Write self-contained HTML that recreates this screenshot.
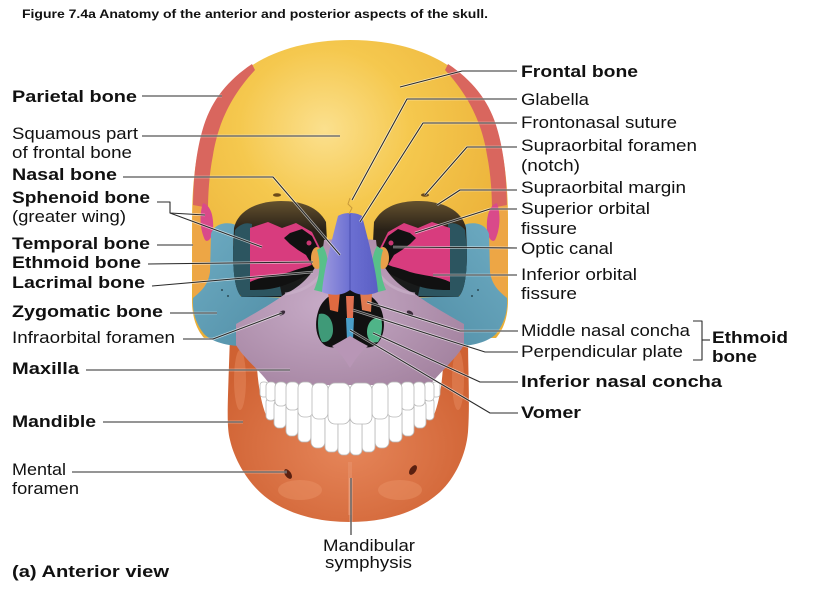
<!DOCTYPE html>
<html>
<head>
<meta charset="utf-8">
<style>
html,body{margin:0;padding:0;background:#fff;}
svg{display:block;}
text{font-family:"Liberation Sans",Arial,sans-serif;fill:#111;}
.b{font-weight:bold;font-size:16.5px;}
.r{font-size:16.5px;}
</style>
</head>
<body>
<svg width="813" height="595" viewBox="0 0 813 595" xmlns="http://www.w3.org/2000/svg">
<defs>
<radialGradient id="gY" cx="0.42" cy="0.3" r="0.68">
<stop offset="0" stop-color="#fbe08e"/><stop offset="0.4" stop-color="#f5c84e"/><stop offset="1" stop-color="#eaae36"/>
</radialGradient>
<radialGradient id="gM" cx="0.5" cy="0.6" r="0.6">
<stop offset="0" stop-color="#e6865a"/><stop offset="1" stop-color="#cf6132"/>
</radialGradient>
<radialGradient id="gX" cx="0.4" cy="0.45" r="0.7">
<stop offset="0" stop-color="#c7abc7"/><stop offset="1" stop-color="#a3829f"/>
</radialGradient>
<linearGradient id="gZ" x1="0" y1="0" x2="1" y2="1">
<stop offset="0" stop-color="#6eacc3"/><stop offset="1" stop-color="#4f8ca4"/>
</linearGradient>
<linearGradient id="gO" x1="0" y1="0" x2="0" y2="1">
<stop offset="0" stop-color="#64512e"/><stop offset="0.3" stop-color="#2a2218"/><stop offset="1" stop-color="#15191b"/>
</linearGradient>
<linearGradient id="gN" x1="0" y1="0" x2="1" y2="0">
<stop offset="0" stop-color="#9c98de"/><stop offset="0.5" stop-color="#6c70d2"/><stop offset="1" stop-color="#5a5ec4"/>
</linearGradient>

<g id="L">
  <path d="M252,64 C228,80 212,100 204,125 C196,150 193,180 193,210 L208,212 C208,195 209,175 213,155 C217,130 227,100 255,70 Z" fill="#d9665e"/>
  <path d="M193,205 L209,208 C212,225 214,250 212,280 L194,302 C192,270 192,235 193,205 Z" fill="#eda645"/>
  <path d="M203,203 C210,205 214,215 213,230 C212,238 208,243 205,240 C200,230 199,215 203,203 Z" fill="#d94a8a"/>
  <path d="M211,234 C214,224 226,221 236,225 L240,296 L292,298 L292,304 C268,314 250,326 242,346 C228,346 212,342 204,334 C196,324 192,312 193,298 C200,292 208,286 210,272 Z" fill="url(#gZ)"/>
  <circle cx="222" cy="290" r="1" fill="#2a4a55"/><circle cx="228" cy="296" r="1" fill="#2a4a55"/>
  <path d="M234,228 C238,210 258,201 281,201 C302,201 318,207 326,222 L328,262 C326,284 318,296 300,297 L242,297 C235,292 233,272 233,250 Z" fill="url(#gO)"/>
  <path d="M235,230 C240,224 246,222 252,224 L250,285 L280,286 L282,296 L242,297 C235,292 233,272 233,250 Z" fill="#2c5560"/>
  <path d="M250,228 L268,222 L282,228 L296,223 L312,232 L320,248 L318,262 L300,270 L284,276 L262,280 L250,282 Z" fill="#d83c7e"/>
  <path d="M290,233 L302,229 L312,236 L318,248 L321,262 L312,265 L306,255 L298,250 L290,244 L284,238 Z" fill="#111"/>
  <circle cx="309" cy="243" r="2.5" fill="#c83672"/>
  <path d="M250,282 C262,276 276,276 290,272 C300,268 310,266 318,264 L318,270 C305,276 295,282 282,286 C270,290 258,290 250,290 Z" fill="#111"/>
</g>

<g id="L2">
  <ellipse cx="317" cy="258" rx="6" ry="11" fill="#e8a04a"/>
  <path d="M323,246 C330,258 330,278 322,292 L314,290 C320,276 321,262 317,250 Z" fill="#58c08a"/>
</g>
</defs>

<text x="22" y="18" font-size="12" font-weight="bold" textLength="466" lengthAdjust="spacingAndGlyphs">Figure 7.4a  Anatomy of the anterior and posterior aspects of the skull.</text>

<path d="M230,335 L256,335 C256,365 258,395 266,415 L434,415 C442,395 444,365 444,335 L468,335 C468,370 470,405 468,432 C466,455 455,478 440,492 C420,510 390,522 350,522 C310,522 280,510 262,494 C246,480 234,458 230,440 C226,425 228,400 230,335 Z" fill="url(#gM)"/>
<ellipse cx="300" cy="490" rx="22" ry="10" fill="#ec9468" opacity="0.45"/>
<ellipse cx="400" cy="490" rx="22" ry="10" fill="#ec9468" opacity="0.45"/>
<ellipse cx="240" cy="380" rx="6" ry="30" fill="#ec9468" opacity="0.4"/>
<ellipse cx="458" cy="380" rx="6" ry="30" fill="#ec9468" opacity="0.4"/>
<path d="M350,462 L350,515" stroke="#e99670" stroke-width="4" opacity="0.5"/>

<path d="M350,40 C420,40 468,68 490,112 C503,140 508,180 508,220 L508,300 C508,318 503,330 496,338 L204,338 C197,330 192,318 192,300 L192,220 C192,180 197,140 210,112 C232,68 280,40 350,40 Z" fill="url(#gY)"/>

<use href="#L"/>
<use href="#L" transform="translate(700 0) scale(-1 1)"/>

<path d="M324,240 C322,265 305,285 285,294 C270,305 250,316 236,324 L236,345 C245,360 262,372 270,385 L430,385 C440,372 455,360 464,345 L464,324 C450,316 430,305 415,294 C395,285 378,265 376,240 L350,238 Z" fill="url(#gX)"/>
<path d="M285,294 C300,292 315,285 322,272" fill="none" stroke="#c9b0c9" stroke-width="3" opacity="0.7"/>
<path d="M415,294 C400,292 385,285 378,272" fill="none" stroke="#c9b0c9" stroke-width="3" opacity="0.7"/>

<use href="#L2"/>
<use href="#L2" transform="translate(700 0) scale(-1 1)"/>

<path d="M350,290 C335,290 322,298 318,312 C314,325 316,340 326,346 C336,350 344,345 350,340 C356,345 364,350 374,346 C384,340 386,325 382,312 C378,298 365,290 350,290 Z" fill="#111"/>
<path d="M328,292 L340,292 L338,312 L330,310 Z" fill="#e06a40"/>
<path d="M360,292 L372,294 L371,312 L362,310 Z" fill="#e07a50"/>
<path d="M319,314 C326,312 333,318 333,330 C333,338 328,343 322,342 C318,335 317,322 319,314 Z" fill="#3f9a78"/>
<path d="M381,318 C374,316 367,322 367,332 C367,340 372,344 378,342 C382,336 383,325 381,318 Z" fill="#4fb488"/>
<path d="M346,296 L354,296 L353,318 L347,318 Z" fill="#e07050"/>
<path d="M346,318 L354,318 L353,340 L347,340 Z" fill="#4a9ec8"/>
<path d="M332,346 C340,342 346,338 350,336 C354,338 360,342 368,346 C360,352 355,360 350,368 C345,360 340,352 332,346 Z" fill="#b896b6"/>

<path d="M338,216 C344,212 356,212 362,216 C368,240 376,268 378,292 C368,296 358,296 350,290 C342,296 332,296 322,292 C324,268 332,240 338,216 Z" fill="url(#gN)"/>
<path d="M350,214 L350,290" stroke="#4a4eb0" stroke-width="1"/>
<path d="M350,198 L348,204 L352,208 L349,214" fill="none" stroke="#c89a3a" stroke-width="1"/>

<g fill="#fff" stroke="#b8b8b8" stroke-width="0.8">
<rect x="266" y="398" width="9" height="22" rx="4"/><rect x="425" y="398" width="9" height="22" rx="4"/>
<rect x="274" y="400" width="12" height="28" rx="5"/><rect x="414" y="400" width="12" height="28" rx="5"/>
<rect x="286" y="403" width="12" height="33" rx="5"/><rect x="402" y="403" width="12" height="33" rx="5"/>
<rect x="298" y="405" width="13" height="37" rx="5"/><rect x="389" y="405" width="13" height="37" rx="5"/>
<rect x="311" y="408" width="14" height="40" rx="6"/><rect x="375" y="408" width="14" height="40" rx="6"/>
<rect x="325" y="410" width="13" height="42" rx="5"/><rect x="362" y="410" width="13" height="42" rx="5"/>
<rect x="338" y="410" width="12" height="45" rx="5"/><rect x="350" y="410" width="12" height="45" rx="5"/>
</g>
<g fill="#fff" stroke="#b8b8b8" stroke-width="0.8">
<rect x="260" y="382" width="8" height="15" rx="3"/><rect x="432" y="382" width="8" height="15" rx="3"/>
<rect x="266" y="382" width="10" height="19" rx="4"/><rect x="424" y="382" width="10" height="19" rx="4"/>
<rect x="275" y="382" width="12" height="24" rx="5"/><rect x="413" y="382" width="12" height="24" rx="5"/>
<rect x="286" y="382" width="13" height="28" rx="5"/><rect x="401" y="382" width="13" height="28" rx="5"/>
<rect x="298" y="382" width="15" height="35" rx="6"/><rect x="387" y="382" width="15" height="35" rx="6"/>
<rect x="312" y="383" width="16" height="36" rx="6"/><rect x="372" y="383" width="16" height="36" rx="6"/>
<rect x="328" y="383" width="22" height="41" rx="7"/><rect x="350" y="383" width="22" height="41" rx="7"/>
</g>

<ellipse cx="277" cy="195" rx="4" ry="1.8" fill="#6b4a1a"/>
<ellipse cx="425" cy="195" rx="4" ry="1.8" fill="#6b4a1a"/>
<ellipse cx="282" cy="313" rx="3.5" ry="2" fill="#3a2a3a" transform="rotate(-30 282 313)"/>
<ellipse cx="410" cy="313" rx="3.5" ry="2" fill="#3a2a3a" transform="rotate(30 410 313)"/>
<ellipse cx="288" cy="474" rx="3" ry="5.5" fill="#5a2010" transform="rotate(-35 288 474)"/>
<ellipse cx="413" cy="470" rx="3" ry="5.5" fill="#5a2010" transform="rotate(35 413 470)"/>

<g fill="none" stroke-linejoin="round">
<g stroke="#fff" stroke-width="2.6" opacity="0.6">
<polyline points="142,96 222,96"/><polyline points="142,136 340,136"/><polyline points="123,177 273,177 340,255"/>
<polyline points="157,202 170,202 170,213 205,215"/><polyline points="170,213 262,247"/>
<polyline points="157,245 193,245"/><polyline points="148,264 313,262"/><polyline points="152,286 313,272"/>
<polyline points="170,313 217,313"/><polyline points="183,339 213,339 282,313"/><polyline points="86,370 290,370"/>
<polyline points="103,422 243,422"/><polyline points="72,472 287,472"/><polyline points="351,478 351,535"/>
<polyline points="400,87 462,71 517,71"/><polyline points="352,200 407,99 517,99"/><polyline points="360,222 423,123 517,123"/>
<polyline points="425,195 467,147 517,147"/><polyline points="437,205 460,190 517,190"/><polyline points="415,233 490,209 517,209"/>
<polyline points="393,247 517,248"/><polyline points="433,275 517,275"/>
<polyline points="367,302 460,331 518,331"/><polyline points="353,310 485,352 518,352"/>
<polyline points="373,333 480,382 518,382"/><polyline points="350,330 490,413 518,413"/>
</g>
<g stroke="#2b2b2b" stroke-width="1.1">
<polyline points="142,96 222,96"/><polyline points="142,136 340,136"/><polyline points="123,177 273,177 340,255"/>
<polyline points="157,202 170,202 170,213 205,215"/><polyline points="170,213 262,247"/>
<polyline points="157,245 193,245"/><polyline points="148,264 313,262"/><polyline points="152,286 313,272"/>
<polyline points="170,313 217,313"/><polyline points="183,339 213,339 282,313"/><polyline points="86,370 290,370"/>
<polyline points="103,422 243,422"/><polyline points="72,472 287,472"/><polyline points="351,478 351,535"/>
<polyline points="400,87 462,71 517,71"/><polyline points="352,200 407,99 517,99"/><polyline points="360,222 423,123 517,123"/>
<polyline points="425,195 467,147 517,147"/><polyline points="437,205 460,190 517,190"/><polyline points="415,233 490,209 517,209"/>
<polyline points="393,247 517,248"/><polyline points="433,275 517,275"/>
<polyline points="367,302 460,331 518,331"/><polyline points="353,310 485,352 518,352"/>
<polyline points="373,333 480,382 518,382"/><polyline points="350,330 490,413 518,413"/>
<polyline points="693,321 702,321 702,360 693,360"/><polyline points="702,340 710,340"/>
</g>
</g>

<text class="b" x="12" y="102" textLength="125" lengthAdjust="spacingAndGlyphs">Parietal bone</text>
<text class="r" x="12" y="139" textLength="126" lengthAdjust="spacingAndGlyphs">Squamous part</text>
<text class="r" x="12" y="158" textLength="120" lengthAdjust="spacingAndGlyphs">of frontal bone</text>
<text class="b" x="12" y="180" textLength="105" lengthAdjust="spacingAndGlyphs">Nasal bone</text>
<text class="b" x="12" y="203" textLength="138" lengthAdjust="spacingAndGlyphs">Sphenoid bone</text>
<text class="r" x="12" y="222" textLength="114" lengthAdjust="spacingAndGlyphs">(greater wing)</text>
<text class="b" x="12" y="249" textLength="138" lengthAdjust="spacingAndGlyphs">Temporal bone</text>
<text class="b" x="12" y="268" textLength="129" lengthAdjust="spacingAndGlyphs">Ethmoid bone</text>
<text class="b" x="12" y="288" textLength="133" lengthAdjust="spacingAndGlyphs">Lacrimal bone</text>
<text class="b" x="12" y="317" textLength="151" lengthAdjust="spacingAndGlyphs">Zygomatic bone</text>
<text class="r" x="12" y="343" textLength="163" lengthAdjust="spacingAndGlyphs">Infraorbital foramen</text>
<text class="b" x="12" y="374" textLength="67" lengthAdjust="spacingAndGlyphs">Maxilla</text>
<text class="b" x="12" y="427" textLength="84" lengthAdjust="spacingAndGlyphs">Mandible</text>
<text class="r" x="12" y="475" textLength="54" lengthAdjust="spacingAndGlyphs">Mental</text>
<text class="r" x="12" y="494" textLength="67" lengthAdjust="spacingAndGlyphs">foramen</text>
<text class="b" x="12" y="577" textLength="157" lengthAdjust="spacingAndGlyphs">(a) Anterior view</text>

<text class="r" x="323" y="551" textLength="92" lengthAdjust="spacingAndGlyphs">Mandibular</text>
<text class="r" x="325" y="568" textLength="87" lengthAdjust="spacingAndGlyphs">symphysis</text>

<text class="b" x="521" y="77" textLength="117" lengthAdjust="spacingAndGlyphs">Frontal bone</text>
<text class="r" x="521" y="105" textLength="68" lengthAdjust="spacingAndGlyphs">Glabella</text>
<text class="r" x="521" y="128" textLength="156" lengthAdjust="spacingAndGlyphs">Frontonasal suture</text>
<text class="r" x="521" y="151" textLength="176" lengthAdjust="spacingAndGlyphs">Supraorbital foramen</text>
<text class="r" x="521" y="171" textLength="59" lengthAdjust="spacingAndGlyphs">(notch)</text>
<text class="r" x="521" y="193" textLength="165" lengthAdjust="spacingAndGlyphs">Supraorbital margin</text>
<text class="r" x="521" y="214" textLength="129" lengthAdjust="spacingAndGlyphs">Superior orbital</text>
<text class="r" x="521" y="234" textLength="56" lengthAdjust="spacingAndGlyphs">fissure</text>
<text class="r" x="521" y="254" textLength="92" lengthAdjust="spacingAndGlyphs">Optic canal</text>
<text class="r" x="521" y="280" textLength="116" lengthAdjust="spacingAndGlyphs">Inferior orbital</text>
<text class="r" x="521" y="299" textLength="56" lengthAdjust="spacingAndGlyphs">fissure</text>
<text class="r" x="521" y="336" textLength="169" lengthAdjust="spacingAndGlyphs">Middle nasal concha</text>
<text class="r" x="521" y="357" textLength="162" lengthAdjust="spacingAndGlyphs">Perpendicular plate</text>
<text class="b" x="712" y="343" textLength="76" lengthAdjust="spacingAndGlyphs">Ethmoid</text>
<text class="b" x="712" y="362" textLength="45" lengthAdjust="spacingAndGlyphs">bone</text>
<text class="b" x="521" y="387" textLength="201" lengthAdjust="spacingAndGlyphs">Inferior nasal concha</text>
<text class="b" x="521" y="418" textLength="60" lengthAdjust="spacingAndGlyphs">Vomer</text>
</svg>
</body>
</html>
